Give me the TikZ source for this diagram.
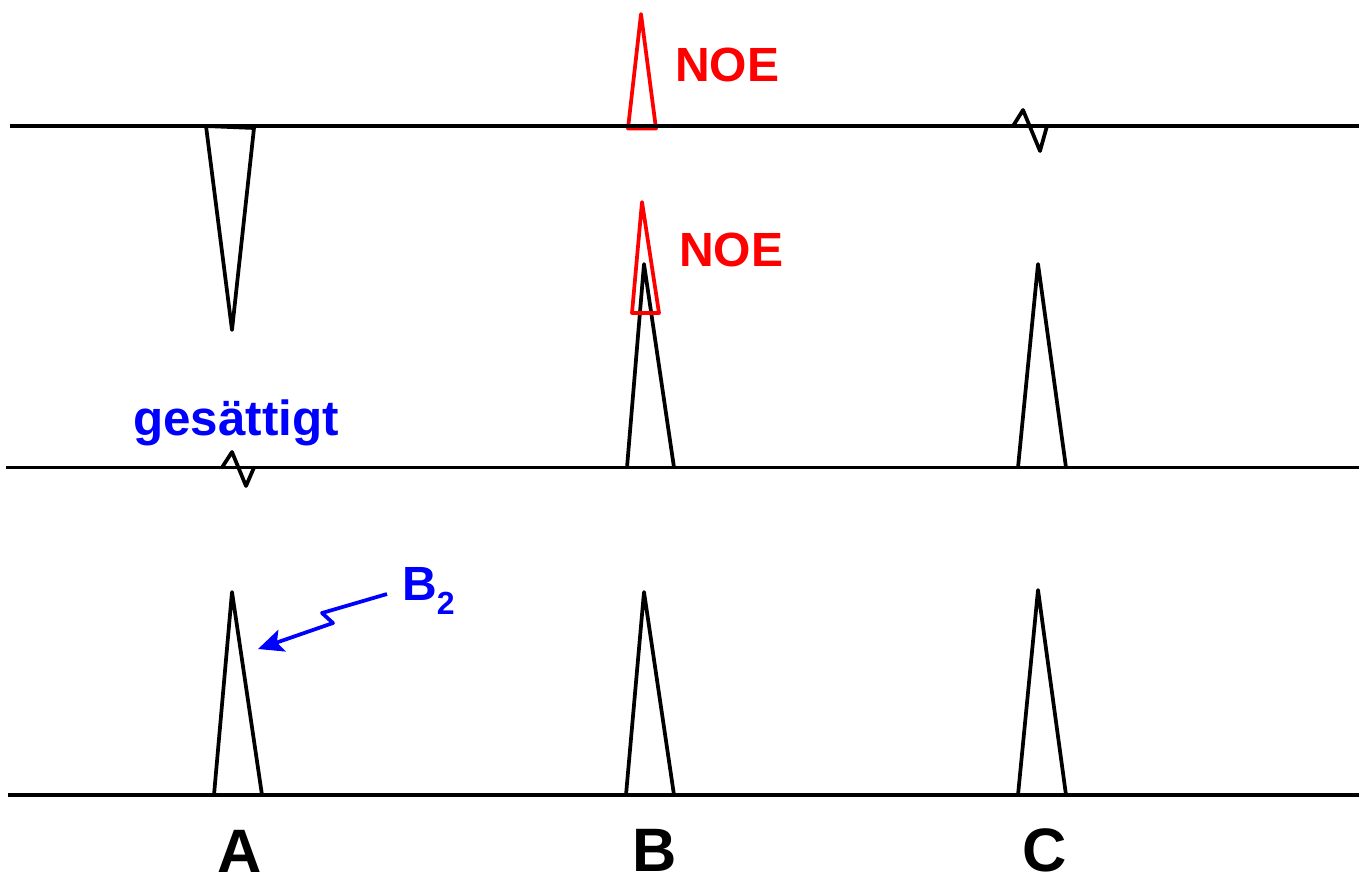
\documentclass[tikz,border=0pt]{standalone}
\usepackage{fontspec}
\setmainfont{Liberation Sans}
\usetikzlibrary{arrows.meta}
\definecolor{nred}{RGB}{255,0,0}
\definecolor{nblue}{RGB}{0,0,255}
\begin{document}
\begin{tikzpicture}[x=0.75pt,y=-0.75pt,
  peak/.style={draw=black,line width=2.8pt,line join=round},
  noepeak/.style={draw=nred,line width=2.8pt,line join=round},
  baseline/.style={draw=black,line width=2.8pt},
  noelabel/.style={text=nred,font=\bfseries\fontsize{36}{40}\selectfont,inner sep=0pt},
  bluelabel/.style={text=nblue,font=\bfseries\fontsize{37}{40}\selectfont,inner sep=0pt},
  letter/.style={text=black,font=\bfseries\fontsize{46}{50}\selectfont,inner sep=0pt},
  bluearrow/.style={draw=nblue,line width=2.8pt,line join=round,-{Stealth[length=19pt,width=17pt,inset=4pt]}}]
\useasboundingbox (0,0) rectangle (1359,879);
% red NOE peak (top)
\draw[noepeak] (628,128.5) -- (641,14) -- (656,128.5) -- cycle;
% inverted A peak (top)
\draw[peak] (206,126) -- (232,330) -- (254,128) -- cycle;
% C squiggle (top)
\draw[peak] (1013,126) -- (1023,110) -- (1040,151) -- (1047,126);
% top baseline
\draw[baseline] (10,126) -- (1359,126);
% middle row
\draw[peak] (627,467.5) -- (644,264) -- (674,467.5);
\draw[noepeak] (632,313) -- (642,202) -- (659,313) -- cycle;
\draw[peak] (1018,467.5) -- (1038,264) -- (1066,467.5);
\draw[peak] (222,467.5) -- (232,452) -- (246,486) -- (254,467.5);
\draw[baseline] (6,467.5) -- (1359,467.5);
% bottom row
\draw[peak] (214,795) -- (232,592) -- (262,795);
\draw[peak] (626,795) -- (644,592) -- (674,795);
\draw[peak] (1018,795) -- (1038,590) -- (1066,795);
\draw[baseline] (8,795) -- (1359,795);
% labels
\node[noelabel] (noe1) at (727,65) {NOE};
\node[noelabel] (noe2) at (731,250) {NOE};
\node[bluelabel,anchor=base west] (sat) at (133,435) {gesättigt};
\node[text=nblue,font=\bfseries\fontsize{36}{40}\selectfont,inner sep=0pt,anchor=base west] (b2) at (402,600) {B{\fontsize{24}{24}\selectfont\raisebox{-11pt}{2}}};
\node[letter] (la) at (240,851) {A};
\node[letter] (lb) at (655,850) {B};
\node[letter] (lc) at (1045,850) {C};
% B2 arrow
\coordinate (s) at (387,594);
\coordinate (t) at (258,649);
\draw[bluearrow] (s) -- (322,613) -- (333,623) -- (t);
\end{tikzpicture}
\end{document}
